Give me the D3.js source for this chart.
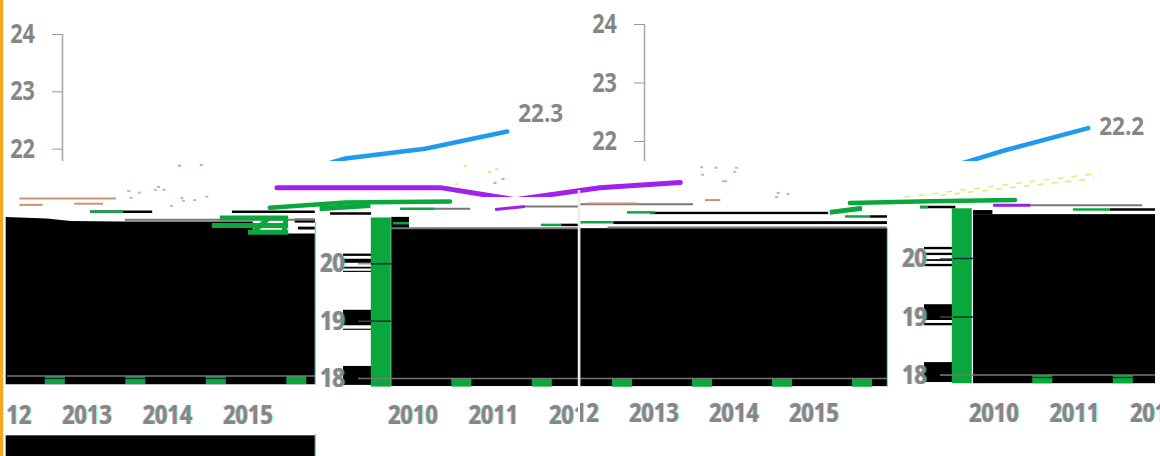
<!DOCTYPE html>
<html><head><meta charset="utf-8">
<script src="https://cdn.jsdelivr.net/npm/d3@7"></script>
<style>
html,body{margin:0;padding:0;background:#fff;overflow:hidden}
text{font-family:"Open Sans",sans-serif;font-weight:700;fill:#868686}
.fringe{filter:drop-shadow(1px 0 0 rgba(0,230,230,.55)) drop-shadow(-1px 0 0 rgba(230,40,40,.4))}
</style></head><body>
<svg id="c" width="1160" height="456"></svg>
<script>
// ---- data (years / percentage values) ----
const years = [2010, 2011, 2012, 2013, 2014, 2015];
const barYears = [2010, 2011, 2012, 2013, 2014, 2015, 2016];
const barValuesA = [20.81, 18, 18, 18, 18, 18, 18];
const barValuesB = [20.85, 18, 18, 18, 18, 18, 18];
const upperTicks = [22, 23, 24];
const lowerTicks = [18, 19, 20];

const blueA = [[2008.6,21.6],[2009.16,21.83],[2010.15,22.0],[2011.17,22.3]];
const blueB = [[2008.83,21.3],[2010.16,21.85],[2011.17,22.22]];
const purpleA = [[2008.31,21.32],[2009.34,21.32],[2010.34,21.32],[2011.27,21.11],[2012.32,21.32],[2013.32,21.41]];
const greenA = [[2008.22,20.97],[2009.16,21.06],[2010.46,21.08]];
const greenB = [[2008.21,20.94],[2009.2,20.97],[2010.26,20.99]];
const valueLabelA = 22.3, valueLabelB = 22.2;

// black masses: top outline of the left block, then [year0, year1, top, bottom]
const blockOutlineA = [[2004.94,20.81],[2005.45,20.78],[2005.75,20.74],[2006.36,20.73],[2008.01,20.73],[2008.01,20.52],[2008.78,20.52]];
const blockBaseA = 17.89;
const bandsA = [
 [2008.53,2008.78,20.78,20.71],[2008.57,2008.78,20.64,20.59],[2004.94,2008.78,17.00,16.62],
 [2009.73,2012.05,20.60,17.86],[2009.73,2009.95,20.81,20.60],
 [2009.13,2009.48,18.21,17.88],[2009.13,2009.48,19.19,18.92],[2009.13,2009.48,18.86,18.84],
 [2009.13,2009.48,20.17,20.13],[2009.13,2009.48,20.08,20.01],[2009.13,2009.48,19.94,19.91],[2009.13,2009.48,19.87,19.85]
];
const bandsB = [
 [2004.86,2008.67,20.51,17.81],[2005.73,2007.94,20.79,20.75],[2005.27,2008.67,20.63,20.58],
 [2009.74,2012.0,20.75,17.86],[2009.74,2009.98,20.82,20.75],
 [2009.13,2009.49,18.22,17.88],[2009.13,2009.49,19.21,18.94],[2009.13,2009.49,18.89,18.85],
 [2009.13,2009.49,20.19,20.15],[2009.13,2009.49,20.09,20.05],[2009.13,2009.49,19.98,19.95],[2009.13,2009.49,19.90,19.86]
];

// thin broken traces: [year0, value0, year1, value1]
const blackTracesA = [[2005.99,20.90,2006.76,20.90],[2007.75,20.90,2008.78,20.90],[2008.97,20.87,2009.48,20.87],[2011.84,20.67,2012.05,20.67]];
const grayTracesA = [[2006.42,20.76,2008.78,20.76],[2010.27,20.95,2010.71,20.95],[2011.39,20.99,2012.05,20.99],[2009.73,20.61,2012.05,20.61]];
const brownTracesA = [[2005.11,21.13,2006.31,21.13],[2005.11,21.02,2005.40,21.02],[2005.79,21.04,2006.15,21.04]];
const thinGreenA = [[2005.99,20.90,2006.4,20.90],[2009.84,20.95,2010.27,20.95],[2011.59,20.67,2011.84,20.67],[2009.75,20.70,2009.95,20.70]];
const thickGreenA = [[2008.84,20.95,2009.47,21.01],[2007.6,20.79,2008.45,20.79],[2007.5,20.66,2008.45,20.66],[2007.95,20.54,2008.45,20.54],[2008.02,20.55,2008.2,20.78],[2008.4,20.55,2008.42,20.78]];
const purpleTraceA = [[2011.02,20.94,2011.39,20.99]];

const blackTracesB = [[2009.08,20.87,2009.52,20.87],[2008.46,20.71,2008.67,20.71],[2011.44,20.83,2012.0,20.83]];
const grayTracesB = [[2004.86,20.92,2006.26,20.92],[2009.99,20.90,2011.84,20.90],[2005.2,20.52,2008.67,20.52]];
const brownTracesB = [[2004.94,20.93,2005.57,20.93],[2006.41,20.99,2006.6,20.99]];
const thinGreenB = [[2005.44,20.78,2005.79,20.78],[2004.86,20.61,2005.27,20.61],[2009.08,20.87,2009.18,20.87],[2008.15,20.71,2008.46,20.71],[2010.98,20.83,2011.44,20.83]];
const thickGreenB = [[2007.96,20.78,2008.36,20.85]];
const purpleTraceB = [[2009.99,20.90,2010.45,20.90]];
const limeTracesB = [[2008.89,21.04,2011.32,21.45],[2009.33,21.07,2011.25,21.36]];

// small stray pixels: [year, value, colour group]
const specksA = [[2006.45,21.28,0],[2006.48,21.16,0],[2006.58,21.25,0],[2006.78,21.30,0],[2006.82,21.35,0],[2006.89,21.30,0],[2007.11,21.16,0],[2007.13,21.11,0],[2007.27,21.12,0],[2007.42,21.18,0],[2006.98,21.02,0],[2007.08,21.72,1],[2007.35,21.73,1],[2010.93,21.61,2],[2011.02,21.66,2],[2010.43,21.35,2],[2010.52,21.40,2],[2010.63,21.72,2],[2011.1,21.49,1],[2011.0,21.42,1]];
const specksB = [[2006.35,21.57,0],[2006.53,21.56,0],[2006.36,21.44,0],[2006.78,21.56,0],[2006.76,21.49,0],[2006.62,21.33,0],[2006.65,21.33,0],[2007.3,21.13,0],[2007.42,21.11,0],[2007.28,21.06,0]];
const speckColours = ["#b4b4e6","#f08ac0","#d9f078"];

// ---- scales ----
const svg = d3.select("#c");
const W = 1160, H = 456;
const yA = d3.scaleLinear().domain([18,24]).range([378,34]);
const yB = d3.scaleLinear().domain([18,24]).range([375,24]);
const xA = d3.scaleLinear().domain([2010,2016]).range([413,896]);     // right part of panel A, also traces
const xAL = d3.scaleLinear().domain([2013,2016]).range([87,328.5]);    // wrapped part of panel A
const xB = d3.scaleLinear().domain([2010,2016]).range([994,1477]);    // right part of panel B, also traces
const xBL = d3.scaleLinear().domain([2013,2016]).range([654,894]);     // wrapped part of panel B

const defs = svg.append("defs");
function clip(id,x,y,w,h){defs.append("clipPath").attr("id",id).append("rect").attr("x",x).attr("y",y).attr("width",w).attr("height",h);}
clip("aL",7,0,308,H); clip("aR",315,0,263,H); clip("bL",580,0,307,H); clip("bR",888,0,272,H);
clip("topCut",0,0,W,161); clip("dipCut",0,0,W,197);

const line = d3.line().curve(d3.curveLinear);
const FONT = 27;
function fit(sel){ sel.each(function(){const t=d3.select(this).text(); d3.select(this).attr("textLength",t.length*12.4).attr("lengthAdjust","spacingAndGlyphs");}); }
const BASE = 17.86;

function panel(p){
  const g = svg.append("g");
  const {x,y} = p;
  // black masses
  g.selectAll(null).data(p.bands).join("rect")
    .attr("x",d=>x(d[0])).attr("width",d=>x(d[1])-x(d[0]))
    .attr("y",d=>y(d[2])).attr("height",d=>y(d[3])-y(d[2])).attr("fill","#000");
  if(p.outline){
    const area=d3.area().x(d=>x(d[0])).y0(y(p.base)).y1(d=>y(d[1]));
    g.append("path").attr("d",area(p.outline)).attr("fill","#000");
  }
  // bars, grid line and year labels of each wrapped part
  p.segs.forEach(s=>{
    const sg=g.append("g").attr("clip-path",`url(#${s.clip})`);
    const rows=barYears.map((yr,i)=>({yr,v:p.barValues[i]})).filter(d=>d.yr>=s.from&&d.yr<=s.to);
    const top=d=>y(d.v===18?18+s.off:d.v+s.off);
    sg.selectAll("rect").data(rows).join("rect")
      .attr("x",d=>s.x(d.yr-0.4)-10).attr("width",20)
      .attr("y",top).attr("height",d=>y(BASE+s.off)-top(d)).attr("fill","#0aa83c");
    if(s.stripe) sg.selectAll("line.st").data(rows.filter(d=>d.v===18&&d.yr<2016)).join("line").attr("class","st")
      .attr("x1",d=>s.x(d.yr-0.4)-10).attr("x2",d=>s.x(d.yr-0.4)+10)
      .attr("y1",y(18+s.off)+2.5).attr("y2",y(18+s.off)+2.5).attr("stroke","#033").attr("stroke-width",1.3);
    sg.append("line").attr("x1",s.gridFrom).attr("x2",s.gridTo).attr("y1",y(18+s.off)).attr("y2",y(18+s.off)).attr("stroke","#777").attr("stroke-width",1.5);
    sg.selectAll("text").data(years.filter(v=>v>=s.labelFrom&&v<=s.labelTo)).join("text")
      .attr("class","fringe").attr("x",d=>s.x(d)).attr("y",p.labelY).attr("text-anchor","middle")
      .attr("font-size",FONT).text(d=>d).call(fit);
  });
  // axes
  const up=d3.axisLeft(y).tickValues(upperTicks).tickSize(10).tickPadding(17).tickFormat(d3.format("d"));
  const ga=g.append("g").attr("transform",`translate(${p.axisTop},0)`).call(up);
  ga.select(".domain").attr("d",`M0.5,${y(24)}V161`).attr("stroke","#aaa").attr("stroke-width",1.6).attr("fill","none");
  ga.selectAll(".tick line").attr("stroke","#999");
  ga.selectAll("text").attr("font-size",FONT).attr("fill","#868686").style("font-family",'"Open Sans",sans-serif').style("font-weight",700).call(fit);
  const low=d3.axisLeft(y).tickValues(lowerTicks).tickSize(13).tickPadding(13).tickFormat(d3.format("d"));
  const gl=g.append("g").attr("transform",`translate(${p.splitX},0)`).call(low);
  gl.select(".domain").remove();
  gl.selectAll(".tick line").attr("stroke","#666");
  gl.selectAll("text").attr("class","fringe").attr("font-size",FONT).style("font-family",'"Open Sans",sans-serif').style("font-weight",700).attr("fill","#868686").call(fit);
  gl.selectAll(".tick").filter(d=>d>18).append("line").attr("x1",0).attr("x2",20).attr("stroke","#033").attr("stroke-width",1.5);
  // traces
  const tr=(data,col,w)=>g.selectAll(null).data(data).join("line")
    .attr("x1",d=>x(d[0])).attr("y1",d=>y(d[1])).attr("x2",d=>x(d[2])).attr("y2",d=>y(d[3]))
    .attr("stroke",col).attr("stroke-width",w);
  tr(p.gray,"#777",2); tr(p.black,"#000",2.5); tr(p.brown,"#cf8f6d",2);
  tr(p.thin,"#0aa83c",2.5); tr(p.thick,"#0aa83c",5); tr(p.purpleTrace,"#9b1fe8",3);
  if(p.lime) tr(p.lime,"#d6f07a",1.5).attr("stroke-dasharray","6 8");
  g.selectAll(null).data(p.specks).join("rect")
    .attr("x",d=>x(d[0])).attr("y",d=>y(d[1])).attr("width",3).attr("height",2).attr("fill",d=>speckColours[d[2]]);
  // main lines
  const L=line.x(d=>x(d[0])).y(d=>y(d[1]));
  g.append("path").attr("d",L(p.green)).attr("fill","none").attr("stroke","#0aa83c").attr("stroke-width",4.5).attr("stroke-linecap","round");
  if(p.purple) g.append("g").attr("clip-path","url(#dipCut)").append("path").attr("d",L(p.purple)).attr("fill","none").attr("stroke","#a020f0").attr("stroke-width",5).attr("stroke-linecap","round");
  g.append("g").attr("clip-path","url(#topCut)").append("path").attr("d",L(p.blue)).attr("fill","none").attr("stroke","#1e9bf0").attr("stroke-width",4.5).attr("stroke-linecap","round");
  const last=p.blue[p.blue.length-1];
  g.append("text").attr("x",x(last[0])+11).attr("y",y(p.valueLabel)+p.valueDy).attr("font-size",FONT-2).text(p.valueLabel.toFixed(1)).attr("textLength",45).attr("lengthAdjust","spacingAndGlyphs");
}

panel({x:xA,y:yA,bands:bandsA,outline:blockOutlineA,base:blockBaseA,splitX:371,axisTop:62,barValues:barValuesA,labelY:424,specks:specksA,
  segs:[{clip:"aL",x:xAL,from:2013,to:2016,labelFrom:2012,labelTo:2015,off:0.035,stripe:true,gridFrom:5,gridTo:315},
        {clip:"aR",x:xA,from:2010,to:2012,labelFrom:2010,labelTo:2012,off:-0.01,stripe:false,gridFrom:358,gridTo:578}],
  gray:grayTracesA,black:blackTracesA,brown:brownTracesA,thin:thinGreenA,thick:thickGreenA,purpleTrace:purpleTraceA,
  green:greenA,purple:purpleA,blue:blueA,valueLabel:valueLabelA,valueDy:-9});
panel({x:xB,y:yB,bands:bandsB,splitX:953,axisTop:644,barValues:barValuesB,labelY:422,specks:specksB,
  segs:[{clip:"bL",x:xBL,from:2013,to:2016,labelFrom:2012,labelTo:2015,off:-0.06,stripe:false,gridFrom:580,gridTo:887},
        {clip:"bR",x:xB,from:2010,to:2012,labelFrom:2010,labelTo:2012,off:0,stripe:true,gridFrom:940,gridTo:1155}],
  gray:grayTracesB,black:blackTracesB,brown:brownTracesB,thin:thinGreenB,thick:thickGreenB,purpleTrace:purpleTraceB,lime:limeTracesB,
  green:greenB,blue:blueB,valueLabel:valueLabelB,valueDy:6});

// seams of the picture: [x, top, bottom, colour, width]
const seams=[[579,190,387,"#ececec",2.5],[315.5,222,385,"#49e6e6",1.2],[315.5,434,456,"#49e6e6",1.2],[887.5,228,387,"#49e6e6",1.2],[1.5,0,456,"#f5a623",3.4]];
svg.selectAll(".seam").data(seams).join("line").attr("class","seam")
  .attr("x1",d=>d[0]).attr("x2",d=>d[0]).attr("y1",d=>d[1]).attr("y2",d=>d[2])
  .attr("stroke",d=>d[3]).attr("stroke-width",d=>d[4]);
</script></body></html>
